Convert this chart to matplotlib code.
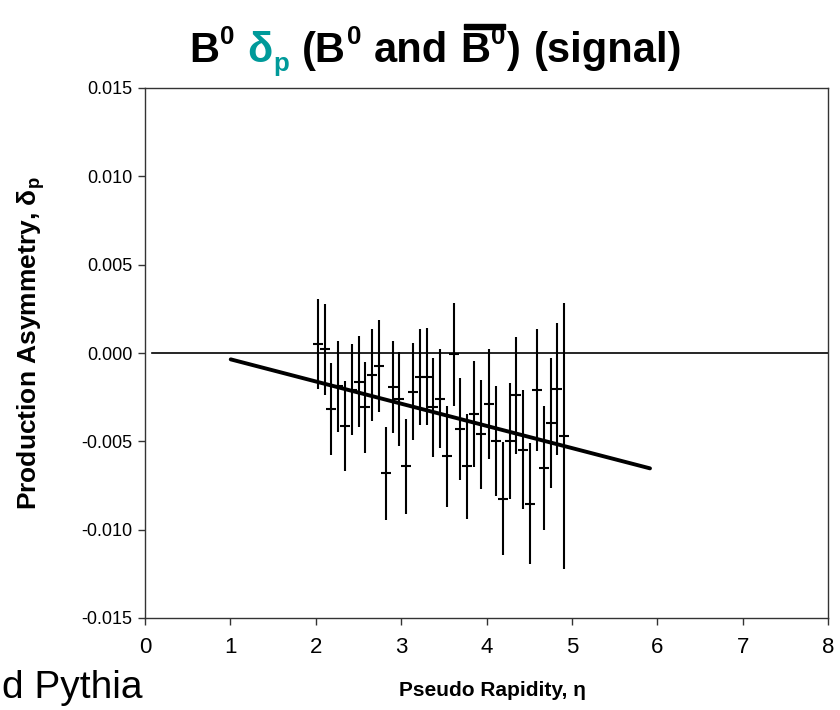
import matplotlib
matplotlib.use("Agg")
import matplotlib.pyplot as plt
from matplotlib import font_manager
from matplotlib.patches import Rectangle

# ---------------- data ----------------
eta = [2.023, 2.105, 2.182, 2.264, 2.343, 2.425, 2.503, 2.580, 2.659, 2.741,
       2.819, 2.901, 2.979, 3.061, 3.139, 3.221, 3.300, 3.377, 3.455, 3.534,
       3.616, 3.693, 3.772, 3.854, 3.932, 4.033, 4.111, 4.190, 4.272, 4.349,
       4.428, 4.510, 4.588, 4.670, 4.752, 4.829, 4.908]
asym = [0.00051, 0.00021, -0.00317, -0.00189, -0.00413, -0.00208, -0.00162, -0.00308, -0.00123, -0.00075,
        -0.00681, -0.00193, -0.00260, -0.00642, -0.00219, -0.00134, -0.00134, -0.00306, -0.00259, -0.00585,
        -0.00008, -0.00430, -0.00642, -0.00345, -0.00461, -0.00289, -0.00498, -0.00825, -0.00498, -0.00240,
        -0.00547, -0.00853, -0.00210, -0.00653, -0.00394, -0.00202, -0.00470]
asym_err = [0.00255, 0.00258, 0.00258, 0.00257, 0.00253, 0.00257, 0.00257, 0.00258, 0.00261, 0.00261,
            0.00263, 0.00260, 0.00265, 0.00271, 0.00273, 0.00271, 0.00276, 0.00280, 0.00280, 0.00285,
            0.00291, 0.00289, 0.00296, 0.00299, 0.00307, 0.00309, 0.00314, 0.00319, 0.00326, 0.00329,
            0.00335, 0.00343, 0.00347, 0.00351, 0.00368, 0.00373, 0.00751]
fit_eta = [1.004, 5.915]
fit_val = [-0.00036, -0.00653]
zero_eta = [0.08, 8.0]
zero_val = [0.0, 0.0]
x_ticks = [0, 1, 2, 3, 4, 5, 6, 7, 8]
y_ticks = [-0.015, -0.010, -0.005, 0.0, 0.005, 0.010, 0.015]
y_tick_labels = ["-0.015", "-0.010", "-0.005", "0.000", "0.005", "0.010", "0.015"]

# ---------------- fonts ----------------
names = {f.name for f in font_manager.fontManager.ttflist}
NARROW = "Liberation Sans Narrow" if "Liberation Sans Narrow" in names else "Liberation Sans"
REG = "Liberation Sans"
plt.rcParams['font.family'] = [REG, 'DejaVu Sans']
plt.rcParams['mathtext.fontset'] = 'custom'
plt.rcParams['mathtext.rm'] = REG
plt.rcParams['mathtext.bf'] = REG + ':bold'
plt.rcParams['mathtext.it'] = REG + ':italic'

TEAL = '#009a9a'
DPI = 100
fig = plt.figure(figsize=(8.4, 7.1), dpi=DPI)
ax = fig.add_axes([145/840, 1 - 618/710, (828 - 145)/840, (618 - 88)/710])

ax.plot(zero_eta, zero_val, color='black', lw=1.2, zorder=2)
ax.errorbar(eta, asym, yerr=asym_err, fmt='_', color='black', ecolor='black',
            elinewidth=1.5, markersize=7, mew=1.5, capsize=0, zorder=3)
ax.plot(fit_eta, fit_val, color='black', lw=2.8, solid_capstyle='round', zorder=4)

ax.set_xlim(0, 8)
ax.set_ylim(-0.015, 0.015)
ax.set_xticks(x_ticks)
ax.set_xticklabels([str(v) for v in x_ticks], fontfamily=NARROW, fontsize=16)
ax.set_yticks(y_ticks)
ax.set_yticklabels(y_tick_labels, fontfamily=NARROW, fontsize=13)
ax.tick_params(axis='both', direction='out', length=5, width=1.0, color='#333333')
ax.tick_params(axis='x', pad=9)
ax.tick_params(axis='y', pad=4)
for s in ax.spines.values():
    s.set_color('#333333')
    s.set_linewidth(1.0)

fig.text(31/840, 1 - 343/710, r"Production Asymmetry, $\mathregular{\delta_p}$",
         rotation=90, ha='center', va='center', fontsize=19, fontweight='bold',
         fontfamily=REG)
fig.text(492/840, 1 - 690/710, "Pseudo Rapidity, η", ha='center', va='center',
         fontsize=15, fontweight='bold', fontfamily=NARROW)
fig.text(2/840, 1 - 688/710, "d Pythia", ha='left', va='center',
         fontsize=28, fontfamily=NARROW)

# ---------------- title built from runs ----------------
T = 30
sup = 0.62 * T
runs = [
    ("B", T, 'black', 0.0),
    ("0", sup, 'black', 0.42),
    ("_sp", T, None, 0),
    ("δ", T, TEAL, 0.0),
    ("p", sup, TEAL, -0.22),
    ("_sp", T, None, 0),
    ("(B", T, 'black', 0.0),
    ("0", sup, 'black', 0.42),
    ("_sp", T, None, 0),
    ("and", T, 'black', 0.0),
    ("_sp", T, None, 0),
    ("B", T, 'black', 0.0),
    ("0", sup, 'black', 0.42),
    (")", T, 'black', 0.0),
    ("_sp", T, None, 0),
    ("(signal)", T, 'black', 0.0),
]
canvas = fig.canvas
renderer = canvas.get_renderer()

def text_width(s, size):
    t = fig.text(0, 0, s, fontsize=size, fontweight='bold', fontfamily=NARROW,
                 transform=None)
    w = t.get_window_extent(renderer).width
    t.remove()
    return w

space_w = text_width("a a", T) - text_width("aa", T)
arts = []
widths = []
for s, size, col, dy in runs:
    if s == "_sp":
        arts.append(None)
        widths.append(space_w)
        continue
    t = fig.text(0, 0, s, fontsize=size, fontweight='bold', fontfamily=NARROW,
                 color=col, transform=None, ha='left', va='baseline')
    arts.append(t)
    widths.append(t.get_window_extent(renderer).width + 1.0)
total = sum(widths)
cx = 436 * DPI / 100
base_y = (710 - 62) * DPI / 100
x = cx - total / 2
bar_idx = 11
bar_x0 = bar_x1 = None
for i, ((s, size, col, dy), a, w) in enumerate(zip(runs, arts, widths)):
    if a is not None:
        a.set_position((x, base_y + dy * T * DPI / 72))
    if i == bar_idx:
        bar_x0 = x + 3
    if i == bar_idx + 1:
        bar_x1 = x + w - 2
    x += w
bar_y = base_y + 0.80 * T * DPI / 72
fig.patches.append(Rectangle((bar_x0, bar_y), bar_x1 - bar_x0, 5, transform=None,
                             color='black', figure=fig))

fig.savefig("out.png", dpi=DPI)
